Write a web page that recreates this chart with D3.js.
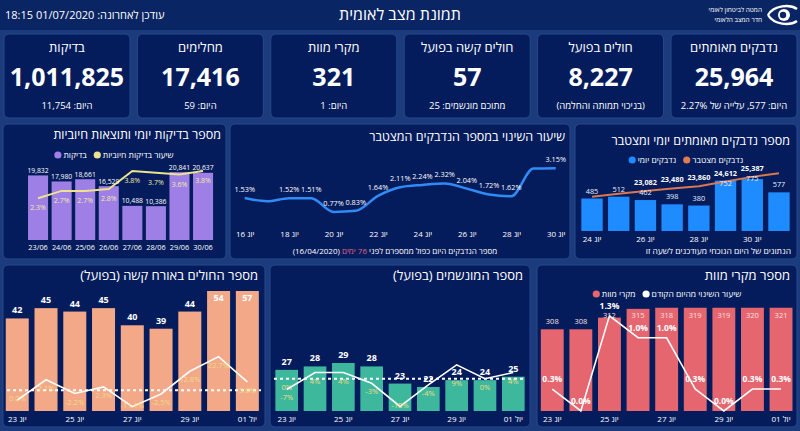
<!DOCTYPE html>
<html>
<head>
<meta charset="utf-8">
<script src="https://cdn.jsdelivr.net/npm/d3@7"></script>
<style>
html, body { margin: 0; padding: 0; background: #1b3b7c; }
svg { display: block; font-family: "Open Sans", "Liberation Sans", "DejaVu Sans", sans-serif; }
</style>
</head>
<body>
<svg id="dash" width="800" height="431"></svg>
<script>
// ---- data ----
var updatedAt = '01/07/2020 18:15';

var kpiTitles = ['נדבקים מאומתים', 'חולים בפועל', 'חולים קשה בפועל', 'מקרי מוות', 'מחלימים', 'בדיקות'];
var kpiValues = [25964, 8227, 57, 321, 17416, 1011825];
var kpiNotes = ['היום: 577, עלייה של  2.27%', '(בניכוי תמותה והחלמה)', 'מתוכם מונשמים: 25', 'היום: 1', 'היום: 59', 'היום: 11,754'];

var testDates = ['23/06', '24/06', '25/06', '26/06', '27/06', '28/06', '29/06', '30/06'];
var testCounts = [19832, 17980, 18661, 16529, 10488, 10386, 20841, 20637];
var positiveRate = [2.3, 2.7, 2.7, 2.8, 3.8, 3.7, 3.6, 3.8];

var growthDays = [16, 17, 18, 19, 20, 21, 22, 23, 24, 25, 26, 27, 28, 29, 30];
var growthRate = [1.53, 1.35, 1.52, 1.51, 0.77, 0.83, 1.64, 2.11, 2.24, 2.32, 2.04, 1.72, 1.62, 3.13, 3.15];
var growthTicks = [16, 18, 20, 22, 24, 26, 28, 30];
var growthHidden = [17, 29];

var confDays = ['24 יונ', '25 יונ', '26 יונ', '27 יונ', '28 יונ', '29 יונ', '30 יונ', '01 יול'];
var confDaily = [485, 512, 462, 398, 380, 752, 775, 577];
var confTotal = [22108, 22620, 23082, 23480, 23860, 24612, 25387, 25964];

var weekDays = ['23 יונ', '24 יונ', '25 יונ', '26 יונ', '27 יונ', '28 יונ', '29 יונ', '30 יונ', '01 יול'];
var critical = [42, 45, 44, 45, 40, 39, 44, 54, 57];
var criticalChange = [-6.7, 7.1, -2.2, 2.3, -11.1, -2.5, 12.8, 22.7, 5.6];
var ventilated = [27, 28, 29, 28, 23, 22, 24, 24, 25];
var ventChange = [-7, 4, 4, -3, -18, -4, 9, 0, 4];
var deaths = [308, 308, 312, 315, 318, 319, 319, 320, 321];
var deathChange = [0.3, 0.0, 1.3, 1.0, 1.0, 0.3, 0.0, 0.3, 0.3];

// ---- helpers ----
var svg = d3.select('#dash')
  , fmt = d3.format(',')
  , panelFill = '#041c5c'
  , panelStroke = '#27488c';

var txt = function (g, x, y, str, size, opts) {
  opts = opts || {};
  var t = g.append('text')
    .attr('x', x)
    .attr('y', y)
    .attr('font-size', size)
    .attr('fill', opts.fill || '#fff')
    .attr('text-anchor', opts.anchor || 'middle')
    .text(str);
  if (opts.rtl) t.attr('direction', 'rtl');
  if (opts.bold) t.attr('font-weight', 'bold');
  return t;
};

var panel = function (x, y, w, h) {
  svg.append('rect')
    .attr('x', x).attr('y', y)
    .attr('width', w).attr('height', h)
    .attr('rx', 5)
    .attr('fill', panelFill)
    .attr('stroke', panelStroke)
    .attr('stroke-width', 1);
};

// legend items are given left to right: dot, then its text
var legend = function (cx, y, items) {
  var g = svg.append('g')
    , widths = []
    , total = 0;
  items.forEach(function (it) {
    var t = txt(g, 0, y + 3, it.label, 8.5, { rtl: true });
    it.node = t;
    widths.push(t.node().getComputedTextLength());
  });
  widths.forEach(function (w) { total += 9 + w; });
  total += 7 * (items.length - 1);
  var cur = cx - total / 2;
  items.forEach(function (it, i) {
    g.append('circle').attr('cx', cur + 3.5).attr('cy', y).attr('r', 3.6).attr('fill', it.color);
    it.node.attr('x', cur + 9 + widths[i] / 2);
    cur += 9 + widths[i] + 7;
  });
};

var xAxis = function (scale, y, ticks, fmtFn, size) {
  var ax = d3.axisBottom(scale).tickSize(0).tickPadding(5);
  if (ticks) ax.tickValues(ticks);
  if (fmtFn) ax.tickFormat(fmtFn);
  var g = svg.append('g')
    .attr('transform', 'translate(0,' + y + ')')
    .call(ax);
  g.select('.domain').remove();
  g.attr('font-family', null).attr('font-size', null);
  g.selectAll('text').attr('fill', '#fff').attr('font-size', size || 8.5);
  return g;
};

// ---- background & header ----
svg.append('rect').attr('width', 800).attr('height', 431).attr('fill', '#1b3b7c');
svg.append('rect').attr('width', 800).attr('height', 30).attr('fill', '#0a2563');

txt(svg, 400, 20, 'תמונת מצב לאומית', 16, { rtl: true });
txt(svg, 5, 19, 'עודכן לאחרונה: ' + updatedAt, 11, { rtl: true, anchor: 'end' });

// logo
txt(svg, 762, 12, 'המטה לביטחון לאומי', 6.5, { rtl: true, anchor: 'start' });
txt(svg, 762, 22, 'חדר המצב הלאומי', 6.5, { rtl: true, anchor: 'start' });
svg.append('path')
  .attr('d', 'M768,15 C774,5 790,4 797,9 M768,15 C774,25 790,26 797,21')
  .attr('fill', 'none').attr('stroke', '#fff').attr('stroke-width', 2.4);
svg.append('circle').attr('cx', 784).attr('cy', 15).attr('r', 6).attr('fill', '#fff');
svg.append('circle').attr('cx', 783).attr('cy', 15).attr('r', 3.2).attr('fill', '#0a2563');

// ---- KPI cards ----
kpiTitles.forEach(function (title, i) {
  var x = 671 - i * 133.4
    , cx = x + 63;
  panel(x, 34, 126, 84);
  txt(svg, cx, 52, title, 13, { rtl: true });
  txt(svg, cx, 86, fmt(kpiValues[i]), 25, { bold: true });
  txt(svg, cx, 109, kpiNotes[i], 9.5, { rtl: true });
});

// ---- middle row panels ----
panel(3, 124, 223, 135);
panel(230, 124, 340, 135);
panel(575, 124, 222, 135);

// tests per day + positive rate
(function () {
  var x = d3.scaleBand().domain(testDates).range([24.5, 216.6]).padding(0.15)
    , y = d3.scaleLinear().domain([0, 21500]).range([240, 170])
    , yr = d3.scaleLinear().domain([0, 3.85]).range([240, 170])
    , bw = x.bandwidth();

  txt(svg, 221, 139, 'מספר בדיקות יומי ותוצאות חיוביות', 12.5, { rtl: true, anchor: 'start' });
  legend(114, 155, [
    { label: 'בדיקות', color: '#a07fe8' },
    { label: 'שיעור בדיקות חיוביות', color: '#ece38a' }
  ]);

  svg.append('g').selectAll('rect')
    .data(testCounts)
    .enter()
    .append('rect')
    .attr('x', function (d, i) { return x(testDates[i]); })
    .attr('y', function (d) { return y(d); })
    .attr('width', bw)
    .attr('height', function (d) { return 240 - y(d); })
    .attr('fill', '#9d7fe6');

  var line = d3.line()
    .x(function (d, i) { return x(testDates[i]) + bw / 2; })
    .y(function (d) { return yr(d); });
  svg.append('path').datum(positiveRate)
    .attr('d', line).attr('fill', 'none')
    .attr('stroke', '#ece38a').attr('stroke-width', 2);

  testCounts.forEach(function (d, i) {
    txt(svg, x(testDates[i]) + bw / 2, y(d) - 2.5, fmt(d), 6.8);
  });
  positiveRate.forEach(function (d, i) {
    txt(svg, x(testDates[i]) + bw / 2, yr(d) + 12, d.toFixed(1) + '%', 7, { fill: '#f4e9a6' });
  });

  xAxis(x, 240, null, null, 7.3);
})();

// cumulative growth rate
(function () {
  var x = d3.scaleLinear().domain([16, 30]).range([244.7, 555.7])
    , y = d3.scaleLinear().domain([0, 3.6]).range([226, 160]);

  txt(svg, 565, 141, 'שיעור השינוי במספר הנדבקים המצטבר', 12.5, { rtl: true, anchor: 'start' });

  var line = d3.line()
    .x(function (d, i) { return x(growthDays[i]); })
    .y(function (d) { return y(d); })
    .curve(d3.curveMonotoneX);
  svg.append('path').datum(growthRate)
    .attr('d', line).attr('fill', 'none')
    .attr('stroke', '#2f8bf5').attr('stroke-width', 2.5);

  growthRate.forEach(function (d, i) {
    if (growthHidden.indexOf(growthDays[i]) >= 0) return;
    txt(svg, x(growthDays[i]), y(d) - 6, d.toFixed(2) + '%', 7.3);
  });

  xAxis(x, 226, growthTicks, function (d) { return d + ' יונ'; }, 8);

  var f = txt(svg, 395, 254, 'מספר הנדבקים היום כפול ממספרם לפני ', 8, { rtl: true });
  f.append('tspan').attr('fill', '#e2638a').text('76 ימים');
  f.append('tspan').text(' (16/04/2020)');
})();

// confirmed daily + cumulative
(function () {
  var x = d3.scaleBand().domain(confDays).range([576, 795]).padding(0.2)
    , y = d3.scaleLinear().domain([0, 1000]).range([231, 164])
    , yc = d3.scaleLinear().domain([16500, 27500]).range([231, 164])
    , bw = x.bandwidth();

  txt(svg, 790, 145, 'מספר נדבקים מאומתים יומי ומצטבר', 12.5, { rtl: true, anchor: 'start' });
  legend(686, 160, [
    { label: 'נדבקים יומי', color: '#1e8cff' },
    { label: 'נדבקים מצטבר', color: '#e07a50' }
  ]);

  svg.append('g').selectAll('rect')
    .data(confDaily)
    .enter()
    .append('rect')
    .attr('x', function (d, i) { return x(confDays[i]); })
    .attr('y', function (d) { return y(d); })
    .attr('width', bw)
    .attr('height', function (d) { return 231 - y(d); })
    .attr('fill', '#1e8cff');

  var line = d3.line()
    .x(function (d, i) { return x(confDays[i]) + bw / 2; })
    .y(function (d) { return yc(d); });
  svg.append('path').datum(confTotal)
    .attr('d', line).attr('fill', 'none')
    .attr('stroke', '#d9774f').attr('stroke-width', 2);

  confTotal.forEach(function (d, i) {
    if (i < 2 || i > 6) return;
    txt(svg, x(confDays[i]) + bw / 2, yc(d) - 6, fmt(d), 7.3, { bold: true });
  });
  confDaily.forEach(function (d, i) {
    var ly = y(d) - 5;
    if (i >= 2 && i <= 6) ly = Math.max(ly, yc(confTotal[i]) + 4);
    txt(svg, x(confDays[i]) + bw / 2, ly, fmt(d), 7.3, { fill: '#e6eeff' });
  });

  xAxis(x, 231, confDays.filter(function (d, i) { return i % 2 === 0; }), null, 8);
  txt(svg, 791, 254, 'הנתונים של היום הנוכחי מעודכנים לשעה זו', 8.5, { rtl: true, anchor: 'start' });
})();

// ---- bottom row ----
var barLineChart = function (o) {
  var x = d3.scaleBand().domain(o.cats).range(o.xr).padding(0.2)
    , y = d3.scaleLinear().domain(o.yd).range([o.base, o.top])
    , yp = d3.scaleLinear().domain(o.pd).range([o.base, o.top])
    , bw = x.bandwidth()
    , cx = function (i) { return x(o.cats[i]) + bw / 2; };

  panel(o.px, 265, o.pw, 162);
  txt(svg, o.px + o.pw - 7, 280, o.title, 13, { rtl: true, anchor: 'start' });
  if (o.legend) legend(o.px + o.pw / 2, 294, o.legend);

  svg.append('clipPath').attr('id', 'clip' + o.id)
    .append('rect')
    .attr('x', o.xr[0]).attr('y', o.top)
    .attr('width', o.xr[1] - o.xr[0]).attr('height', o.base - o.top);

  svg.append('g').attr('clip-path', 'url(#clip' + o.id + ')')
    .selectAll('rect')
    .data(o.values)
    .enter()
    .append('rect')
    .attr('x', function (d, i) { return x(o.cats[i]); })
    .attr('y', function (d) { return y(d); })
    .attr('width', bw)
    .attr('height', function (d) { return o.base - y(d); })
    .attr('fill', o.color);

  var refLabelY = null;
  if (o.refLine) {
    svg.append('line')
      .attr('x1', o.px + 4).attr('x2', o.px + o.pw - 4)
      .attr('y1', yp(0)).attr('y2', yp(0))
      .attr('stroke', '#fff').attr('stroke-width', 2)
      .attr('stroke-dasharray', '3,3');
    refLabelY = yp(0) + 11;
    txt(svg, cx(0), refLabelY, o.pctFmt(0), 7.5, { fill: o.pctColor });
  }

  var line = d3.line()
    .x(function (d, i) { return cx(i); })
    .y(function (d) { return yp(d); });
  svg.append('path').datum(o.changes)
    .attr('d', line).attr('fill', 'none')
    .attr('stroke', '#fff').attr('stroke-width', 1.6);

  var valY = [];
  o.values.forEach(function (d, i) {
    var ly = Math.max(y(d) - 5, o.top + 10);
    valY.push(ly);
    txt(svg, cx(i), ly, fmt(d), o.valSize, { bold: o.valBold, fill: o.valColor });
  });

  o.changes.forEach(function (d, i) {
    var ly = o.pctAbove ? yp(d) - 7 : Math.min(yp(d) + 11, o.base - 3);
    if (refLabelY !== null && i === 0 && Math.abs(ly - refLabelY) < 10) return;
    // keep clear of the value label on the same bar
    if (!o.pctAbove && Math.abs(ly - valY[i]) < 10) ly = valY[i] + 11;
    txt(svg, cx(i), ly, o.pctFmt(d), o.pctSize, { bold: o.pctAbove, fill: o.pctColor });
  });

  xAxis(x, o.base, o.cats.filter(function (d, i) { return i % 2 === 0; }), null, 8);
};

barLineChart({
  id: 'crit', px: 3, pw: 262, title: 'מספר החולים באורח קשה (בפועל)',
  cats: weekDays, values: critical, changes: criticalChange,
  xr: [0, 264.6], yd: [15, 50], pd: [-14, 67], base: 411, top: 291,
  color: '#f3a887', refLine: true,
  valSize: 9, valBold: true, valColor: '#fff',
  pctSize: 7.5, pctColor: '#f1dc86',
  pctFmt: function (d) { return d.toFixed(1) + '%'; }
});

barLineChart({
  id: 'vent', px: 270, pw: 260, title: 'מספר המונשמים (בפועל)',
  cats: weekDays, values: ventilated, changes: ventChange,
  xr: [269.7, 530.3], yd: [15, 50], pd: [-21, 57], base: 411, top: 291,
  color: '#3db89c', refLine: true,
  valSize: 9, valBold: true, valColor: '#fff',
  pctSize: 7.5, pctColor: '#f1dc86',
  pctFmt: function (d) { return d.toFixed(0) + '%'; }
});

barLineChart({
  id: 'death', px: 537, pw: 260, title: 'מספר מקרי מוות',
  legend: [
    { label: 'מקרי מוות', color: '#e8646e' },
    { label: 'שיעור השינוי מהיום הקודם', color: '#fff' }
  ],
  cats: weekDays, values: deaths, changes: deathChange,
  xr: [535.1, 798.2], yd: [280, 315.4], pd: [0, 1.41], base: 411, top: 307.7,
  color: '#e5666f', refLine: false,
  valSize: 7.5, valBold: false, valColor: '#fbe0e0',
  pctSize: 8.5, pctColor: '#fff', pctAbove: true,
  pctFmt: function (d) { return d.toFixed(1) + '%'; }
});
</script>
</body>
</html>
